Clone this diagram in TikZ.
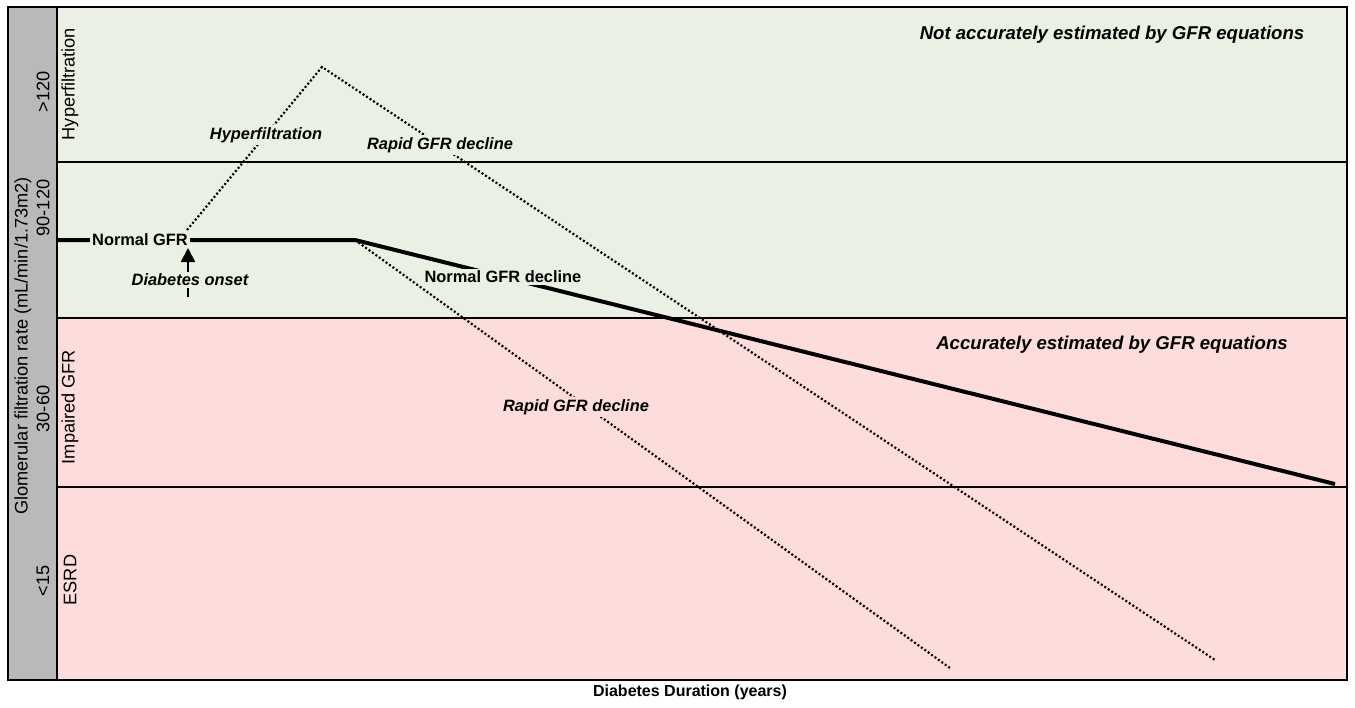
\documentclass[tikz,border=0pt]{standalone}
\usepackage{fontspec}
\setmainfont{Liberation Sans}
\usetikzlibrary{arrows.meta}
\definecolor{hypergreen}{RGB}{234,241,228}
\definecolor{impairpink}{RGB}{253,221,220}
\definecolor{axisgray}{RGB}{185,185,185}

\begin{document}
\begin{tikzpicture}[
            x = 0.5pt, y = -0.5pt,
            every node/.style={inner sep=1pt},
            band/.style={line width = .8pt},
            gfr/.style={line width = 2pt},
            rapid/.style={line width = 1.1pt, dash pattern=on 1pt off 1.1pt},
            lbl/.style={font=\fontsize{8.2}{10}\selectfont\bfseries},
            note/.style={font=\fontsize{8.2}{10}\selectfont\bfseries\itshape},
            head/.style={font=\fontsize{9.3}{11}\selectfont\bfseries\itshape},
            side/.style={rotate=90, font=\fontsize{9.1}{11}\selectfont},
            ]
        \useasboundingbox (0,0) rectangle (1355,707);

        \fill[hypergreen] (57,7) rectangle (1347,318);
        \fill[impairpink] (57,318) rectangle (1347,680);
        \fill[axisgray] (8,7) rectangle (57,680);
        \draw[band] (57,162) -- (1347,162) (57,318) -- (1347,318) (57,487) -- (1347,487);
        \draw[band] (57,7) -- (57,680);
        \draw[line width = 1.1pt] (8,7) rectangle (1347,680);

        \node[side] (yaxis) at (23,346) {Glomerular filtration rate (mL/min/1.73m2)};
        \node[side] (r120) at (43,92) {>120};
        \node[side] (r90) at (43,208) {90-120};
        \node[side] (r30) at (43,409) {30-60};
        \node[side] (r15) at (43,581) {<15};
        \node[side] (hyper) at (70,84) {Hyperfiltration};
        \node[side] (impair) at (70,407) {Impaired GFR};
        \node[side] (esrd) at (70,580) {ESRD};

        \coordinate (start) at (57,240);
        \coordinate (bend) at (355,240);
        \coordinate (end) at (1335,484);
        \coordinate (onset) at (187,230);
        \coordinate (peak) at (322,67);
        \coordinate (hyperend) at (1215,660);
        \coordinate (rapidend) at (950,668);
        \coordinate (tick) at (188,297);
        \coordinate (tip) at (188,248);

        \draw[rapid] (onset) -- (peak) -- (hyperend);
        \draw[rapid] (bend) -- (rapidend);
        \draw[gfr] (start) -- (bend) -- (end);
        \draw[line width = .9pt, -{Triangle[width=7pt, length=7pt]}] (tick) -- (tip);

        \node[lbl, fill=hypergreen] (normal) at (140,240) {Normal GFR};
        \node[lbl, fill=hypergreen] (decline) at (503,277) {Normal GFR decline};
        \node[note, fill=hypergreen] (onsetlbl) at (190,280) {Diabetes onset};
        \node[note, fill=hypergreen] (hyperlbl) at (266,135) {Hyperfiltration};
        \node[note, fill=hypergreen] (rapid1) at (440,145) {Rapid GFR decline};
        \node[note, fill=impairpink] (rapid2) at (576,407) {Rapid GFR decline};
        \node[head] (notacc) at (1112,35) {Not accurately estimated by GFR equations};
        \node[head] (acc) at (1112,345) {Accurately estimated by GFR equations};
        \node[font=\fontsize{8}{10}\selectfont\bfseries] (xaxis) at (690,692) {Diabetes Duration (years)};

    \end{tikzpicture}
\end{document}
